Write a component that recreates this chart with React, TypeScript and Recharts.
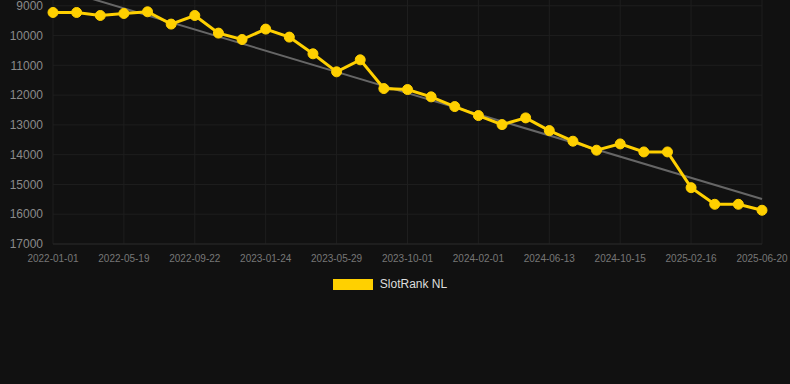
import React from 'react';
import {
  LineChart,
  Line,
  XAxis,
  YAxis,
  CartesianGrid,
  Legend,
  ReferenceLine,
} from 'recharts';

// Dates of each ranking snapshot (only every third one is labelled)
const dates = [
  '2022-01-01', '2022-02-15', '2022-04-02', '2022-05-19', '2022-06-30',
  '2022-08-11', '2022-09-22', '2022-11-02', '2022-12-13', '2023-01-24',
  '2023-03-07', '2023-04-18', '2023-05-29', '2023-07-10', '2023-08-20',
  '2023-10-01', '2023-11-11', '2023-12-22', '2024-02-01', '2024-03-15',
  '2024-04-29', '2024-06-13', '2024-07-24', '2024-09-04', '2024-10-15',
  '2024-11-25', '2025-01-06', '2025-02-16', '2025-03-29', '2025-05-09',
  '2025-06-20',
];

// Rank position in SlotRank NL (lower is better)
const ranks = [
  9225, 9225, 9326, 9259, 9202, 9615, 9326, 9918, 10133, 9783,
  10052, 10613, 11218, 10815, 11780, 11813, 12059, 12385, 12687, 12990,
  12765, 13192, 13548, 13850, 13639, 13908, 13908, 15108, 15666, 15666,
  15867,
];

// Trend line end values
const trendStart = 8376;
const trendEnd = 15487;

const yTicks = [8000, 9000, 10000, 11000, 12000, 13000, 14000, 15000, 16000, 17000];

const chartData = dates.map((d, i) => ({ date: d, rank: ranks[i] }));

const FONT = '"Liberation Sans", Arial, Helvetica, sans-serif';

const LegendContent = () => (
  <div
    style={{
      height: 20,
      display: 'flex',
      alignItems: 'center',
      justifyContent: 'center',
      fontFamily: FONT,
      fontSize: 12,
      color: '#dddddd',
      paddingLeft: 18,
    }}
  >
    <span style={{ display: 'inline-block', width: 40, height: 11, background: '#FFD000', marginRight: 7 }} />
    <span>SlotRank NL</span>
  </div>
);

export default function App() {
  return (
    <div style={{ position: 'fixed', inset: 0, background: '#111111', overflow: 'hidden' }}>
      <div style={{ position: 'absolute', left: 0, top: -24 }}>
        <LineChart
          width={790}
          height={408}
          data={chartData}
          margin={{ top: 0, right: 28, left: 0, bottom: 90 }}
        >
          <CartesianGrid stroke="#1e1e1e" strokeWidth={1} />
          <XAxis
            dataKey="date"
            interval={2}
            tickLine={false}
            axisLine={{ stroke: '#262626' }}
            tickMargin={5}
            tick={{ fill: '#777777', fontSize: 10, fontFamily: FONT }}
          />
          <YAxis
            reversed
            domain={[8000, 17000]}
            ticks={yTicks}
            width={53}
            tickLine={false}
            axisLine={false}
            tickMargin={4}
            tick={{ fill: '#8a8a8a', fontSize: 12, fontFamily: FONT }}
          />
          <ReferenceLine
            segment={[
              { x: dates[0], y: trendStart },
              { x: dates[dates.length - 1], y: trendEnd },
            ]}
            stroke="#666666"
            strokeWidth={2}
            ifOverflow="visible"
          />
          <Line
            type="linear"
            dataKey="rank"
            name="SlotRank NL"
            stroke="#FFD000"
            strokeWidth={3}
            dot={{ r: 5, fill: '#FFD000', stroke: '#FFD000', strokeWidth: 1 }}
            isAnimationActive={false}
          />
          <Legend verticalAlign="bottom" content={<LegendContent />} />
        </LineChart>
      </div>
    </div>
  );
}
